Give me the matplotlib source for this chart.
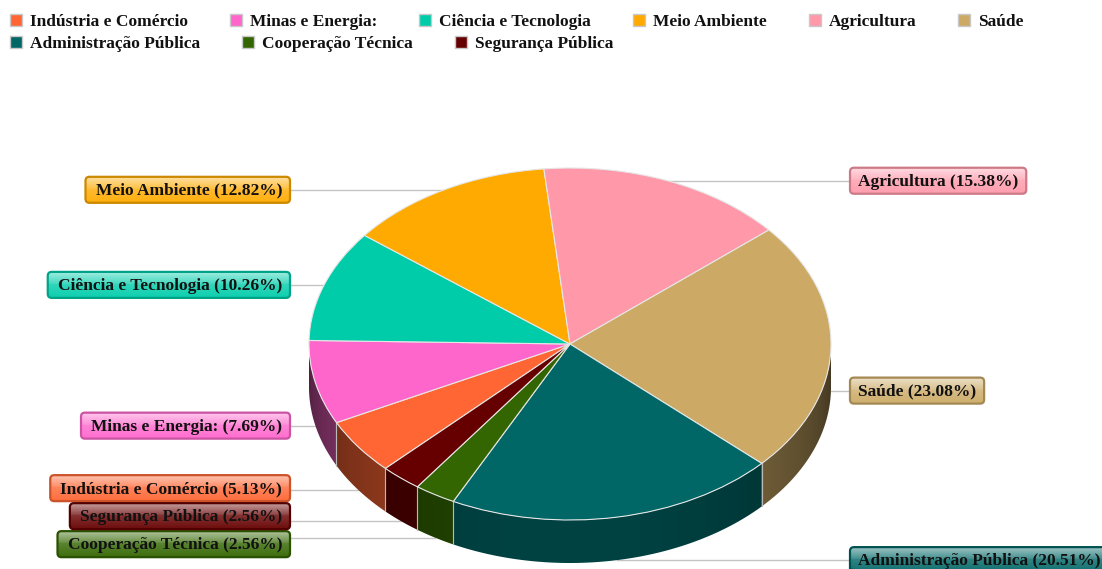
import numpy as np
import matplotlib
matplotlib.use("Agg")
import matplotlib.pyplot as plt
from matplotlib.patches import FancyBboxPatch, Rectangle, Polygon
from matplotlib.transforms import Affine2D
import matplotlib.colors as mcolors

# ---- data -------------------------------------------------------------
categories = ["Indústria e Comércio", "Minas e Energia:", "Ciência e Tecnologia",
              "Meio Ambiente", "Agricultura", "Saúde", "Administração Pública",
              "Cooperação Técnica", "Segurança Pública"]
shares = [5.13, 7.69, 10.26, 12.82, 15.38, 23.08, 20.51, 2.56, 2.56]
colors = ["#FF6633", "#FF66CC", "#00CCAA", "#FFAA00", "#FF99AA",
          "#CCAA66", "#006666", "#336600", "#660000"]

# ---- canvas -----------------------------------------------------------
W, H = 1102, 569
FONT = dict(family="Liberation Serif", fontweight="bold", fontsize=12.5)

fig = plt.figure(figsize=(W / 100, H / 100), dpi=100)
ax = fig.add_axes([0, 0, 1, 1])

# pie geometry (pixel units, y downwards)
CX, CY, RX, RY, DEPTH = 570, 344, 261, 176, 43

wedges, _ = ax.pie(shares, colors=colors, startangle=225, counterclock=False,
                   radius=1, center=(0, 0),
                   wedgeprops=dict(edgecolor="#e6e6e6", linewidth=0.8))
face_tf = Affine2D().scale(RX, -RY).translate(CX, CY) + ax.transData
for w in wedges:
    w.set_transform(face_tf)
    w.set_zorder(3)


def set_frame():
    ax.set_xlim(0, W)
    ax.set_ylim(H, 0)
    ax.set_aspect("auto")
    ax.set_position([0, 0, 1, 1])
    ax.axis("off")


set_frame()


def on_rim(t, drop=0.0):
    r = np.radians(t)
    return CX + RX * np.cos(r), CY - RY * np.sin(r) + drop


# ---- side walls (front half of the cylinder) -------------------------
for w, c in zip(wedges, colors):
    base = np.array(mcolors.to_rgb(c))
    t1, t2 = w.theta1, w.theta2
    for k in (-360, 0, 360):
        a, b = max(t1, 180 + k), min(t2, 360 + k)
        if b <= a:
            continue
        ts = np.linspace(a, b, max(2, int((b - a) / 0.5) + 1))
        top = [on_rim(t) for t in ts]
        bottom = [on_rim(t, DEPTH) for t in ts[::-1]]
        wall = Polygon(top + bottom, closed=True, fc="none", ec="none", zorder=2)
        ax.add_patch(wall)
        xs = np.array([p[0] for p in top])
        xa, xb = xs.min() - 1, xs.max() + 1
        gx = np.linspace(xa, xb, 200)
        u = np.clip((gx - CX) / RX, -1, 1)
        light = 0.30 + 0.35 * np.sqrt(1 - u ** 2)
        strip = np.clip(base[None, :] * light[:, None], 0, 1)[None, :, :]
        ys = [p[1] for p in top]
        img = ax.imshow(strip, extent=(xa, xb, max(ys) + DEPTH + 1, min(ys) - 1),
                        origin="upper", aspect="auto", zorder=2,
                        interpolation="bilinear")
        img.set_clip_path(wall)
        for t in (a, b):
            if (t - 180) % 180 > 1e-6:
                x, y = on_rim(t)
                ax.plot([x, x], [y, y + DEPTH], color="#bdbdbd", lw=0.8,
                        alpha=0.8, zorder=2.5)

set_frame()
renderer = fig.canvas.get_renderer()

# ---- callout labels ---------------------------------------------------
BOX_H, GAP = 26, 28
LEFT_EDGE, RIGHT_EDGE, PAD = 290, 850, 8

items = []
for w, cat, val, c in zip(wedges, categories, shares, colors):
    mid = 0.5 * (w.theta1 + w.theta2)
    below = np.sin(np.radians(mid)) < 0
    ax_, ay_ = on_rim(mid, DEPTH if below else 0.0)
    side = "left" if np.cos(np.radians(mid)) < 0 else "right"
    items.append(dict(text=f"{cat} ({val:.2f}%)", color=c, ax=ax_, ay=ay_, side=side))


def spread(group):
    group.sort(key=lambda d: d["ay"])
    clusters = [[d] for d in group]
    for d in group:
        d["ly"] = d["ay"]
    changed = True
    while changed:
        changed = False
        for i in range(len(clusters) - 1):
            if clusters[i + 1][0]["ly"] - clusters[i][-1]["ly"] < GAP:
                merged = clusters[i] + clusters[i + 1]
                centre = np.mean([d["ay"] for d in merged])
                start = centre - GAP * (len(merged) - 1) / 2
                for j, d in enumerate(merged):
                    d["ly"] = start + GAP * j
                clusters[i:i + 2] = [merged]
                changed = True
                break


spread([d for d in items if d["side"] == "left"])
spread([d for d in items if d["side"] == "right"])

for d in items:
    left = d["side"] == "left"
    edge = LEFT_EDGE if left else RIGHT_EDGE
    ax.plot([d["ax"], edge], [d["ay"], d["ay"]], color="#c4c4c4", lw=1, zorder=1)
    tx = edge - PAD if left else edge + PAD
    txt = ax.text(tx, d["ly"] + 1, d["text"], ha="right" if left else "left",
                  va="center", color="#111111", zorder=7, **FONT)
    bb = txt.get_window_extent(renderer)
    if left:
        x0, x1 = bb.x0 - PAD - 2, edge
    else:
        x0, x1 = edge, bb.x1 + PAD
    y0 = d["ly"] - BOX_H / 2
    base = np.array(mcolors.to_rgb(d["color"]))
    box = FancyBboxPatch((x0, y0), x1 - x0, BOX_H,
                         boxstyle="round,pad=0,rounding_size=4",
                         fc="none", ec=base * 0.8, lw=1.6, zorder=6)
    ax.add_patch(box)
    # glossy vertical gradient inside the box
    tt = np.linspace(0, 1, 60)
    mix = np.where(tt < 0.45, 0.62 - 0.35 * tt / 0.45,
                   0.20 - 0.15 * (tt - 0.45) / 0.55)
    grad = base[None, :] * (1 - mix[:, None]) + mix[:, None]
    img = ax.imshow(grad[:, None, :], extent=(x0, x1, y0 + BOX_H, y0),
                    origin="upper", aspect="auto", zorder=5.5,
                    interpolation="bilinear")
    img.set_clip_path(box)
    set_frame()

# ---- legend (flowing rows) -------------------------------------------
lx, ly = 10, 20
for cat, c in zip(categories, colors):
    t = ax.text(0, 0, cat, **FONT)
    tw = t.get_window_extent(renderer).width
    t.remove()
    if lx + 20 + tw > W - 10:
        lx, ly = 10, ly + 22
    ax.add_patch(Rectangle((lx, ly - 6), 12, 12, fc=c, ec="#c8c8c8", lw=1, zorder=4))
    ax.text(lx + 20, ly + 1.5, cat, ha="left", va="center", color="#111111",
            zorder=4, **FONT)
    lx += 20 + tw + 42

set_frame()
fig.savefig("out.png", dpi=100, facecolor="white")
